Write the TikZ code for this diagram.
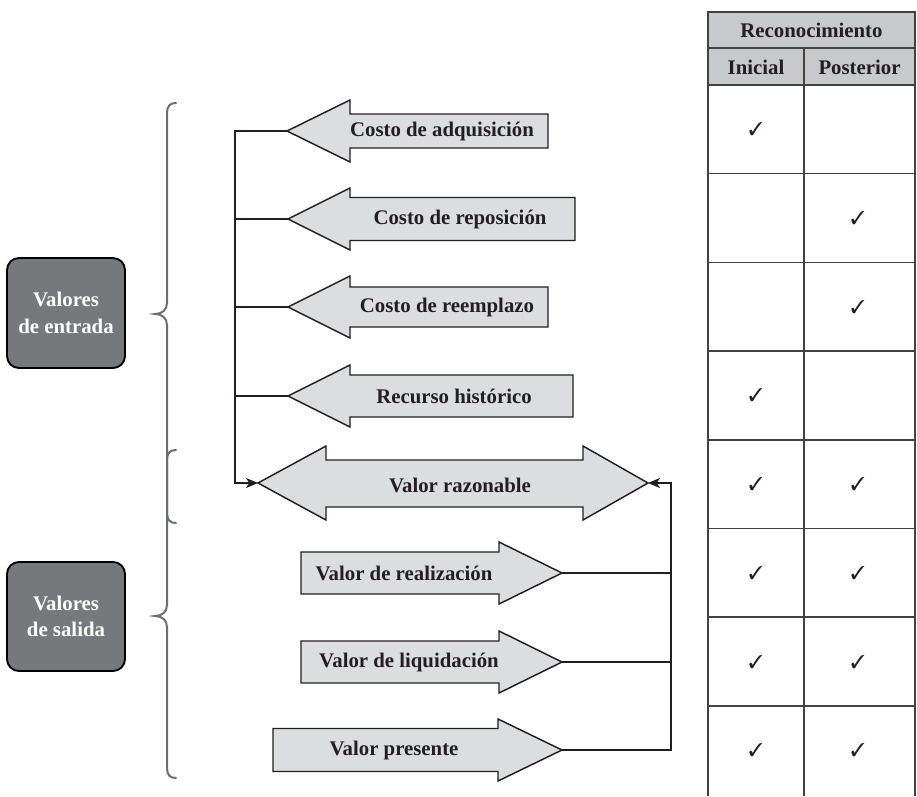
\documentclass[tikz,border=0pt]{standalone}
\usepackage{fontspec}
\setmainfont{Liberation Serif}
\usepackage{pifont}
\usetikzlibrary{arrows.meta}

\definecolor{ink}{HTML}{231F20}
\definecolor{boxfill}{HTML}{DCDDDF}
\definecolor{groupfill}{HTML}{77787B}
\definecolor{bracegray}{HTML}{6D6E71}
\definecolor{headfill}{HTML}{C8C9CB}

\tikzset{
  arrowbox/.style={draw=ink, fill=boxfill, line width=1.1pt, line join=miter},
  lbl/.style={font=\fontsize{15.6}{18}\selectfont\bfseries, text=ink, inner sep=0pt},
  conn/.style={draw=ink, line width=1.1pt},
  tip/.style={-{Stealth[length=9pt,width=7.5pt,inset=2.5pt]}},
  groupbox/.style={draw=black, fill=groupfill, line width=1.4pt, rounded corners=9pt,
    text=white, font=\fontsize{15.6}{20}\selectfont\bfseries, align=center, inner sep=0pt},
  bracepath/.style={draw=bracegray, line width=1.5pt, line cap=round},
  grid/.style={draw=ink!85, line width=1.1pt},
  hdr/.style={font=\fontsize{15.6}{18}\selectfont\bfseries, text=ink},
  chk/.style={font=\fontsize{14}{15}\selectfont, text=ink, inner sep=0pt}
}

% left-pointing box arrow: name, tip x, centre y, head base x, right x, head half, shaft half, label x, label
\newcommand\leftbox[9]{%
  \draw[arrowbox] (#2,#3) -- (#4,#3-#6) -- (#4,#3-#7) -- (#5,#3-#7) -- (#5,#3+#7)
    -- (#4,#3+#7) -- (#4,#3+#6) -- cycle;
  \coordinate (#1-tip) at (#2,#3);
  \node[lbl] (#1) at (#8,#3) {#9};
}
% right-pointing box arrow: name, left x, centre y, head base x, tip x, head half, shaft half, label x, label
\newcommand\rightbox[9]{%
  \draw[arrowbox] (#5,#3) -- (#4,#3-#6) -- (#4,#3-#7) -- (#2,#3-#7) -- (#2,#3+#7)
    -- (#4,#3+#7) -- (#4,#3+#6) -- cycle;
  \coordinate (#1-tip) at (#5,#3);
  \node[lbl] (#1) at (#8,#3) {#9};
}
% curly brace opening right: top y, bottom y, tip y
\newcommand\groupbrace[3]{%
  \draw[bracepath] (176,#1) .. controls (170,#1) and (167,#1+3) .. (167,#1+10)
    -- (167,#3-11) .. controls (167,#3-4) and (162,#3) .. (155,#3)
    .. controls (162,#3) and (167,#3+4) .. (167,#3+11)
    -- (167,#2-10) .. controls (167,#2-3) and (170,#2) .. (176,#2);
}

\begin{document}
\begin{tikzpicture}[x=0.75pt, y=-0.75pt]
  \useasboundingbox (0,0) rectangle (917,796);

  % group labels (sizes in pt: 118 x 110 px)
  \node[groupbox, minimum width=88.5pt, minimum height=82.5pt] (entrada) at (66,313) {Valores\\de entrada};
  \node[groupbox, minimum width=88.5pt, minimum height=81.8pt] (salida) at (66,616.5) {Valores\\de salida};

  % braces
  \groupbrace{103}{523}{314}
  \groupbrace{450}{778}{616}

  % input values
  \leftbox{adq}{287}{131}{350}{548}{31}{17}{442}{Costo de adquisición}
  \leftbox{rep}{288}{219}{350}{575}{31}{21.5}{460}{Costo de reposición}
  \leftbox{ree}{288}{307}{350}{548}{31}{20}{447}{Costo de reemplazo}
  \leftbox{his}{288}{396}{350}{573}{31}{21}{454}{Recurso histórico}

  % fair value, double arrow
  \draw[arrowbox] (258,483) -- (326,446) -- (326,460) -- (583,460) -- (583,446) -- (648,483)
    -- (583,520) -- (583,507) -- (326,507) -- (326,520) -- cycle;
  \coordinate (vr-ltip) at (258,483);
  \coordinate (vr-rtip) at (648,483);
  \node[lbl] (vr) at (460,485) {Valor razonable};

  % output values
  \rightbox{rea}{301}{573}{499}{562}{31}{21}{404}{Valor de realización}
  \rightbox{liq}{301}{662}{499}{562}{31}{21}{409}{Valor de liquidación}
  \rightbox{pre}{273}{750}{498}{562}{31}{21.5}{394}{Valor presente}

  % connectors on the left
  \coordinate (lspine) at (235,131);
  \draw[conn, tip] (adq-tip) -- (lspine) |- (vr-ltip);
  \draw[conn] (rep-tip) -- (rep-tip -| lspine);
  \draw[conn] (ree-tip) -- (ree-tip -| lspine);
  \draw[conn] (his-tip) -- (his-tip -| lspine);

  % connectors on the right
  \coordinate (rspine) at (671,750);
  \draw[conn, tip] (pre-tip) -- (rspine) |- (vr-rtip);
  \draw[conn] (rea-tip) -- (rea-tip -| rspine);
  \draw[conn] (liq-tip) -- (liq-tip -| rspine);

  % recognition table
  \fill[headfill] (708,12) rectangle (915,85);
  \draw[grid] (708,796) -- (708,12) -- (915,12) -- (915,796);
  \draw[grid] (708,48) -- (915,48);
  \draw[grid] (804,48) -- (804,796);
  \foreach \yy in {85,173.7,262.4,351,439.8,528.5,617,705.9}
    \draw[grid] (708,\yy) -- (915,\yy);
  \node[hdr] (rec) at (811.5,30) {Reconocimiento};
  \node[hdr] (ini) at (756,67) {Inicial};
  \node[hdr] (pos) at (859.5,67) {Posterior};

  % check marks: initial column
  \foreach \r in {1,4,5,6,7,8}
    \node[chk] (i\r) at (756,85+88.7*\r-44.35) {\ding{51}};
  % check marks: subsequent column
  \foreach \r in {2,3,5,6,7,8}
    \node[chk] (p\r) at (858,85+88.7*\r-44.35) {\ding{51}};
\end{tikzpicture}
\end{document}
